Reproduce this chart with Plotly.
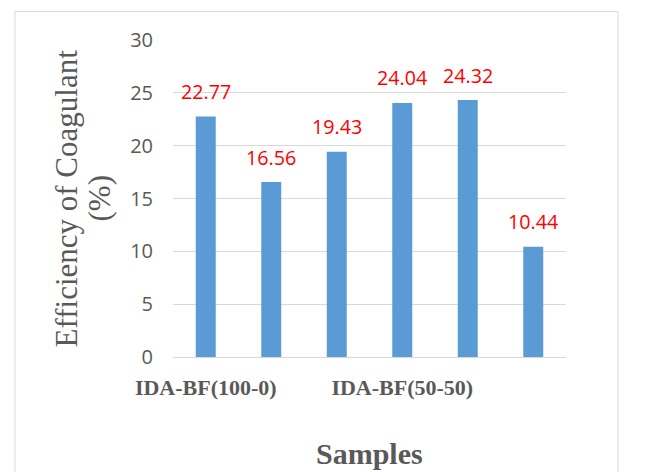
import plotly.graph_objects as go

# Data
positions = [0, 1, 2, 3, 4, 5]
values = [22.77, 16.56, 19.43, 24.04, 24.32, 10.44]
value_labels = ["22.77", "16.56", "19.43", "24.04", "24.32", "10.44"]
tick_positions = [0, 3]
tick_labels = ["IDA-BF(100-0)", "IDA-BF(50-50)"]
y_ticks = [0, 5, 10, 15, 20, 25, 30]
y_title_lines = ["Efficiency of Coagulant", "(%)"]
x_title = "Samples"

W, H = 654, 472
L, R, T, B = 173, 88, 40, 115

fig = go.Figure()
fig.add_trace(go.Bar(
    x=positions, y=values, width=0.305,
    marker=dict(color="#5b9bd5", line=dict(width=0)),
    hoverinfo="skip",
))

for xv, yv, lab in zip(positions, values, value_labels):
    fig.add_annotation(x=xv, y=yv, text=lab, showarrow=False, yshift=25,
                       font=dict(family="Open Sans", size=19.7, color="#ff0000"))

pw = W - L - R
ph = H - T - B
def px_to_paper_x(px):
    return (px - L) / pw
def px_to_paper_y(py):
    return (H - B - py) / ph

fig.add_shape(type="rect", xref="paper", yref="paper",
              x0=px_to_paper_x(15), x1=px_to_paper_x(618),
              y0=px_to_paper_y(480), y1=px_to_paper_y(11.5),
              line=dict(color="#d9d9d9", width=1), fillcolor="rgba(0,0,0,0)", layer="below")

# Y-axis title as two rotated lines
for xpx, txt in zip([66, 99], y_title_lines):
    fig.add_annotation(xref="paper", yref="paper", x=px_to_paper_x(xpx), y=px_to_paper_y(198.5),
                       text=txt, textangle=-90, showarrow=False,
                       xanchor="center", yanchor="middle",
                       font=dict(family="Liberation Serif", size=31, color="#595959"))

# X-axis title
fig.add_annotation(xref="paper", yref="paper", x=0.5, y=px_to_paper_y(454),
                   text="<b>" + x_title + "</b>", showarrow=False,
                   xanchor="center", yanchor="middle",
                   font=dict(family="Liberation Serif", size=30, color="#595959"))

fig.update_layout(
    width=W, height=H,
    margin=dict(l=L, r=R, t=T, b=B, pad=0),
    paper_bgcolor="white", plot_bgcolor="white",
    showlegend=False,
    xaxis=dict(
        range=[-0.5, 5.5], tickmode="array", tickvals=tick_positions,
        ticktext=["<b>" + t + "</b>" for t in tick_labels],
        showgrid=False, zeroline=False, showline=False, ticks="",
        automargin=False, ticklabelstandoff=15,
        tickfont=dict(family="Liberation Serif", size=22, color="#595959"),
    ),
    yaxis=dict(
        range=[0, 30], tickmode="array", tickvals=y_ticks,
        showgrid=True, gridcolor="#d9d9d9", gridwidth=1,
        zeroline=True, zerolinecolor="#d9d9d9", zerolinewidth=1,
        showline=False, ticks="", ticklabelstandoff=19, automargin=False,
        tickfont=dict(family="Open Sans", size=20, color="#595959"),
    ),
)

fig.write_html("out.html", config={"displayModeBar": False},
               post_script="document.body.style.margin='0';document.body.style.overflow='hidden';")
